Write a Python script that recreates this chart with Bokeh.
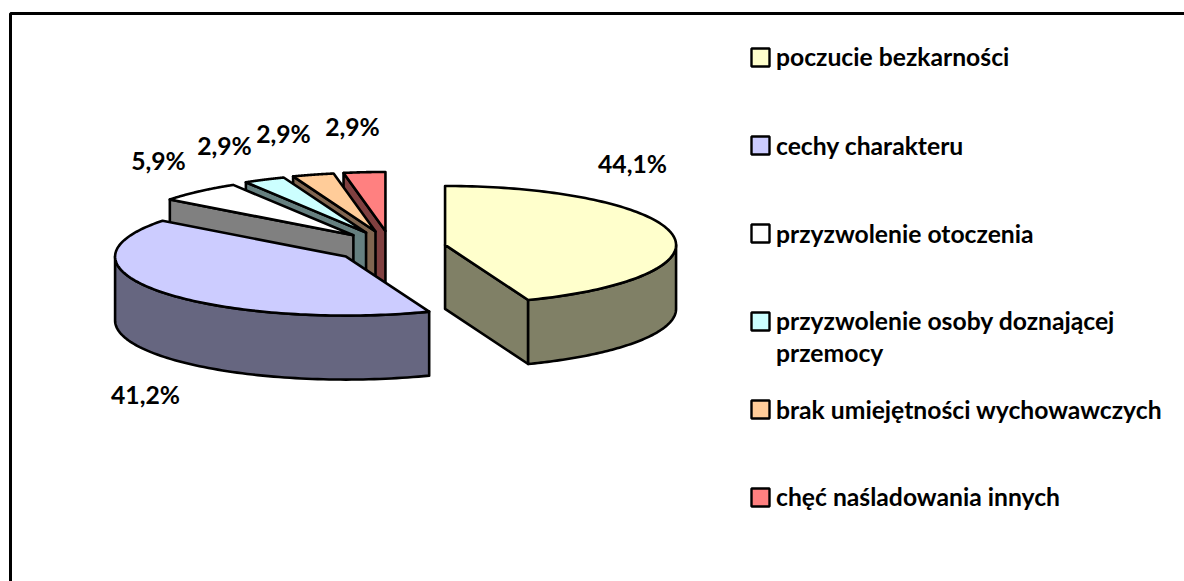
import numpy as np
from bokeh.plotting import figure
from bokeh.models import Range1d
from bokeh.core.properties import value
from bokeh.embed import file_html
from bokeh.resources import INLINE

# --- data
categories = ["poczucie bezkarności", "cechy charakteru", "przyzwolenie otoczenia",
              "przyzwolenie osoby doznającej\nprzemocy", "brak umiejętności wychowawczych",
              "chęć naśladowania innych"]
percent = [44.1, 41.2, 5.9, 2.9, 2.9, 2.9]
pct_labels = ["44,1%", "41,2%", "5,9%", "2,9%", "2,9%", "2,9%"]

# --- style / layout
top_colors = ["#FFFFCC", "#CCCCFF", "#FFFFFF", "#CCFFFF", "#FFCC99", "#FF8080"]
side_colors = ["#808066", "#666680", "#808080", "#668080", "#806650", "#804040"]
CX, CY = 390.0, 247.6      # pie centre in reference pixels
A, B = 231.0, 59.0         # ellipse radii
DEPTH = 64.0
EXPLODE = 55.5
TILT_DOWN, TILT_UP = 0.255, 0.31
label_x = [632, 145, 158, 224, 283, 352]
label_y = [163, 394, 160, 145, 133, 126]
legend_y = [57, 145, 233, 321, 409, 497]
legend_text_y = [[56], [144.5], [233], [320, 352], [408.5], [496]]
FONT = value("Lato")
LW = 2.6

W, H = 1184, 581
p = figure(width=W, height=H, output_backend="svg", toolbar_location=None,
           x_range=Range1d(0, W), y_range=Range1d(H, 0), min_border=0)
p.axis.visible = False
p.grid.visible = False
p.outline_line_color = None

# frame
p.line([10, 10, W], [H, 13, 13], line_color="#000000", line_width=3)

total = sum(percent)
edges = np.concatenate([[0], np.cumsum(percent)]) / total * 2 * np.pi


def pt(cx, cy, t):
    return cx + A * np.sin(t), cy - B * np.cos(t)


def draw(i):
    t0, t1 = edges[i], edges[i + 1]
    mid = (t0 + t1) / 2
    dy = -np.cos(mid)
    cx = CX + EXPLODE * np.sin(mid)
    cy = CY + EXPLODE * dy * (TILT_DOWN if dy > 0 else TILT_UP)
    side, top = side_colors[i], top_colors[i]
    style = dict(line_color="#000000", line_width=LW, line_join="round")
    # radial wall
    t_wall = t1 if i == 0 else t0
    if i != 1:
        x, y = pt(cx, cy, t_wall)
        p.patch([cx, x, x, cx], [cy, y, y + DEPTH, cy + DEPTH], fill_color=side, **style)
    # rim wall (front half only)
    a0, a1 = max(t0, np.pi / 2), min(t1, 3 * np.pi / 2)
    if a1 > a0:
        ts = np.linspace(a0, a1, 80)
        x, y = pt(cx, cy, ts)
        p.patch(np.r_[x, x[::-1]], np.r_[y, y[::-1] + DEPTH], fill_color=side, **style)
    # top face
    ts = np.linspace(t0, t1, 120)
    x, y = pt(cx, cy, ts)
    p.patch(np.r_[cx, x], np.r_[cy, y], fill_color=top, **style)


for i in [5, 4, 3, 2, 1, 0]:
    draw(i)

# percentage labels
p.text(label_x, label_y, text=pct_labels, text_font=FONT, text_font_style="bold",
       text_font_size="24.7px", text_align="center", text_baseline="middle", text_color="#000000")

# legend
p.rect([760] * 6, legend_y, width=18, height=18, fill_color=top_colors,
       line_color="#000000", line_width=2.4)
for name, ys in zip(categories, legend_text_y):
    for line, y in zip(name.split("\n"), ys):
        p.text([775.5], [y], text=[line], text_font=FONT, text_font_style="bold",
               text_font_size="24.7px", text_align="left", text_baseline="middle", text_color="#000000")

open("out.html", "w").write(file_html(p, INLINE))
